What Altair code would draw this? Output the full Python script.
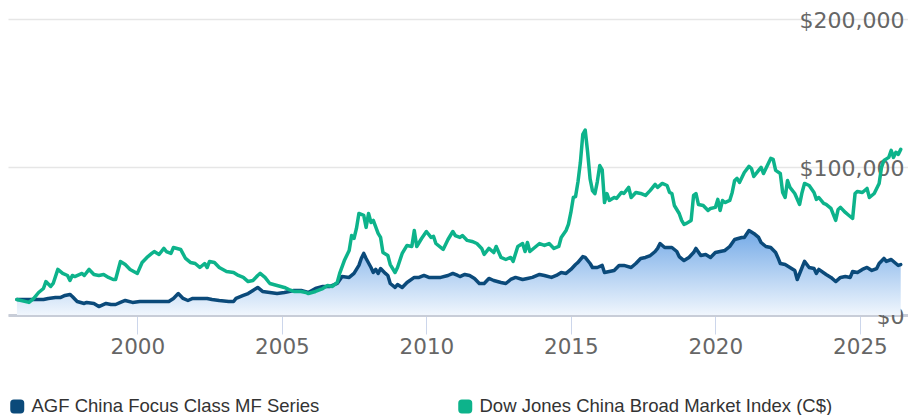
import altair as alt
import pandas as pd

AGF = "AGF China Focus Class MF Series"
DJ = "Dow Jones China Broad Market Index (C$)"
series_names = [AGF, DJ]
series_colors = ["#0b4a7a", "#0db38b"]
y_ticks = [0, 100000, 200000]
x_tick_years = [2000, 2005, 2010, 2015, 2020, 2025]

agf_dates = [
    "1995-11", "1996-02", "1996-06", "1996-10", "1996-12", "1997-03", "1997-05", "1997-07", "1997-09", "1997-10",
    "1997-12", "1998-03", "1998-04", "1998-07", "1998-09", "1998-12", "1999-02", "1999-04", "1999-06", "1999-08",
    "1999-11", "2000-02", "2000-06", "2000-10", "2001-02", "2001-04", "2001-06", "2001-08", "2001-10", "2001-12",
    "2002-03", "2002-06", "2002-08", "2002-11", "2003-03", "2003-05", "2003-06", "2003-09", "2003-11", "2004-01",
    "2004-03", "2004-05", "2004-08", "2004-11", "2005-02", "2005-06", "2005-09", "2005-12", "2006-03", "2006-06",
    "2006-09", "2006-12", "2007-02", "2007-05", "2007-07", "2007-09", "2007-10", "2007-11", "2007-12", "2008-02",
    "2008-03", "2008-04", "2008-05", "2008-06", "2008-08", "2008-09", "2008-10", "2008-12", "2009-01", "2009-03",
    "2009-05", "2009-08", "2009-10", "2009-12", "2010-02", "2010-04", "2010-07", "2010-10", "2010-12", "2011-02",
    "2011-03", "2011-05", "2011-07", "2011-09", "2011-11", "2012-01", "2012-03", "2012-05", "2012-08", "2012-10",
    "2012-12", "2013-02", "2013-05", "2013-07", "2013-09", "2013-12", "2014-02", "2014-05", "2014-07", "2014-09",
    "2014-11", "2015-01", "2015-03", "2015-04", "2015-06", "2015-07", "2015-09", "2015-10", "2015-12", "2016-02",
    "2016-03", "2016-05", "2016-07", "2016-09", "2016-11", "2017-02", "2017-04", "2017-06", "2017-08", "2017-10",
    "2017-12", "2018-01", "2018-02", "2018-04", "2018-07", "2018-09", "2018-10", "2018-12", "2019-02", "2019-04",
    "2019-05", "2019-07", "2019-09", "2019-11", "2020-01", "2020-03", "2020-05", "2020-07", "2020-09", "2020-12",
    "2021-01", "2021-03", "2021-05", "2021-07", "2021-08", "2021-10", "2021-12", "2022-02", "2022-03", "2022-04",
    "2022-06", "2022-08", "2022-10", "2022-11", "2023-01", "2023-02", "2023-04", "2023-06", "2023-07", "2023-08",
    "2023-11", "2024-01", "2024-03", "2024-05", "2024-07", "2024-09", "2024-10", "2024-12", "2025-02", "2025-04",
    "2025-06", "2025-08", "2025-09", "2025-11", "2025-12", "2026-02", "2026-04", "2026-05", "2026-06",
]
agf_values = [
    10500, 10500, 10500, 10500, 11200, 11800, 11800, 13200, 13900, 12500,
    9100, 7800, 8500, 7800, 5700, 7800, 7100, 7100, 8500, 9800,
    8500, 9100, 9100, 9100, 9100, 11200, 14500, 11200, 9800, 11200,
    11200, 11200, 10500, 9800, 9100, 9100, 11200, 13200, 14500, 16600,
    18600, 15900, 15200, 14500, 15200, 16600, 16600, 15200, 17900, 19300,
    19300, 21300, 26000, 25400, 28100, 33500, 38200, 41600, 38200, 32100,
    28700, 30800, 28100, 31400, 28100, 26700, 21300, 18600, 20600, 18600,
    22000, 25400, 25400, 26700, 25400, 25400, 25400, 26700, 28100, 26700,
    26000, 27400, 26700, 24700, 21300, 21300, 24700, 23300, 22000, 21300,
    24000, 25400, 24000, 24700, 25400, 27400, 26700, 25400, 26700, 28700,
    28100, 30800, 34100, 35500, 39500, 38900, 34800, 32100, 32100, 33500,
    28700, 29400, 30100, 33500, 33500, 32100, 34800, 38200, 38900, 40200,
    42900, 45000, 48300, 45600, 45600, 42900, 39500, 36800, 38900, 42200,
    45000, 40200, 40900, 38900, 42200, 42900, 43600, 46300, 51000, 52400,
    52400, 57100, 55100, 52400, 49000, 46300, 45600, 42200, 38900, 34800,
    34100, 32100, 30100, 24000, 32100, 36200, 32100, 31400, 28100, 30800,
    27400, 25400, 22600, 25400, 26000, 25400, 29400, 28700, 30800, 32100,
    30100, 31400, 34800, 38200, 36200, 37500, 34800, 33500, 34100,
]

dj_dates = [
    "1995-11", "1996-04", "1996-06", "1996-08", "1996-10", "1996-11", "1997-01", "1997-02", "1997-04", "1997-06",
    "1997-08", "1997-09", "1997-10", "1997-11", "1998-02", "1998-03", "1998-05", "1998-07", "1998-09", "1998-11",
    "1999-01", "1999-03", "1999-04", "1999-06", "1999-08", "1999-10", "2000-01", "2000-03", "2000-05", "2000-07",
    "2000-08", "2000-10", "2000-12", "2001-01", "2001-03", "2001-04", "2001-07", "2001-09", "2001-11", "2002-01",
    "2002-03", "2002-05", "2002-06", "2002-07", "2002-09", "2002-11", "2003-02", "2003-05", "2003-07", "2003-09",
    "2003-11", "2004-01", "2004-03", "2004-04", "2004-06", "2004-08", "2004-11", "2005-02", "2005-04", "2005-06",
    "2005-09", "2005-11", "2005-12", "2006-03", "2006-06", "2006-08", "2006-10", "2006-12", "2007-01", "2007-03",
    "2007-05", "2007-06", "2007-07", "2007-08", "2007-09", "2007-11", "2007-12", "2008-01", "2008-02", "2008-03",
    "2008-05", "2008-06", "2008-07", "2008-09", "2008-10", "2008-12", "2009-01", "2009-03", "2009-05", "2009-07",
    "2009-08", "2009-09", "2009-11", "2010-01", "2010-03", "2010-04", "2010-05", "2010-08", "2010-10", "2010-12",
    "2011-01", "2011-03", "2011-04", "2011-06", "2011-08", "2011-10", "2011-12", "2012-01", "2012-03", "2012-05",
    "2012-06", "2012-08", "2012-10", "2012-12", "2013-01", "2013-03", "2013-05", "2013-06", "2013-07", "2013-08",
    "2013-10", "2013-12", "2014-02", "2014-04", "2014-06", "2014-08", "2014-09", "2014-11", "2014-12", "2015-01",
    "2015-02", "2015-03", "2015-04", "2015-05", "2015-06", "2015-07", "2015-08", "2015-09", "2015-10", "2015-11",
    "2015-12", "2016-01", "2016-02", "2016-03", "2016-04", "2016-05", "2016-07", "2016-08", "2016-10", "2016-11",
    "2017-01", "2017-02", "2017-04", "2017-06", "2017-08", "2017-10", "2017-12", "2018-01", "2018-03", "2018-05",
    "2018-06", "2018-07", "2018-08", "2018-10", "2018-11", "2018-12", "2019-01", "2019-03", "2019-04", "2019-05",
    "2019-06", "2019-08", "2019-10", "2019-11", "2020-01", "2020-02", "2020-03", "2020-04", "2020-05", "2020-07",
    "2020-08", "2020-09", "2020-10", "2020-11", "2021-01", "2021-03", "2021-04", "2021-05", "2021-07", "2021-08",
    "2021-09", "2021-10", "2021-12", "2022-01", "2022-02", "2022-04", "2022-05", "2022-06", "2022-07", "2022-08",
    "2022-10", "2022-12", "2023-01", "2023-02", "2023-04", "2023-06", "2023-07", "2023-08", "2023-10", "2023-11",
    "2024-01", "2024-03", "2024-04", "2024-05", "2024-07", "2024-08", "2024-10", "2024-11", "2024-12", "2025-02",
    "2025-04", "2025-05", "2025-07", "2025-09", "2025-10", "2025-11", "2026-01", "2026-02", "2026-03", "2026-04",
    "2026-05", "2026-06",
]
dj_values = [
    10500, 8500, 11200, 15200, 17900, 22600, 19300, 21300, 30800, 28100,
    26700, 23300, 26700, 26000, 28100, 26700, 30800, 27400, 26700, 27400,
    25400, 24000, 24000, 36200, 34100, 30800, 28100, 35500, 38900, 41600,
    42900, 40900, 45000, 42900, 41600, 45600, 44300, 38200, 35500, 34800,
    32100, 34800, 32100, 36200, 35500, 32100, 29400, 28700, 26700, 25400,
    22600, 23300, 26700, 28100, 25400, 21300, 19900, 18600, 17200, 15900,
    15900, 15200, 14500, 15900, 17900, 19900, 19300, 22000, 28100, 36800,
    43600, 53700, 51700, 58500, 68600, 67300, 59200, 68600, 62500, 63900,
    55100, 52400, 42200, 40200, 34100, 28700, 32100, 41600, 47000, 46300,
    57100, 46300, 51700, 56400, 52400, 53100, 48300, 44300, 51000, 56400,
    53700, 52400, 53700, 50400, 49700, 48300, 45000, 40900, 45000, 42200,
    46300, 38900, 37500, 38900, 36200, 46300, 48300, 42900, 49000, 42900,
    45600, 48300, 47000, 48300, 45000, 46300, 52400, 57100, 61200, 69300,
    79400, 80000, 90000, 103000, 122000, 125000, 110000, 92000, 84000, 82000,
    90000, 101000, 98000, 76000, 82000, 77400, 79400, 78800, 82800, 82100,
    86200, 79400, 82800, 82100, 80800, 84200, 88200, 86200, 88900, 87500,
    82800, 82100, 74000, 68600, 63900, 61200, 61900, 63900, 80800, 82100,
    74700, 74000, 70600, 72000, 72700, 78100, 70600, 77400, 76000, 77400,
    82800, 90900, 92300, 89600, 96300, 100400, 99000, 93600, 97700, 99700,
    95600, 99000, 105800, 105100, 97700, 95600, 82800, 79400, 90900, 86200,
    82100, 74700, 82800, 88900, 87500, 82800, 78100, 79400, 75400, 74700,
    72000, 63900, 71300, 72700, 69300, 67900, 65200, 82100, 83500, 82800,
    85500, 79400, 82100, 88900, 99700, 104400, 106500, 111200, 106500, 109900,
    108500, 111900,
]

agf = pd.DataFrame({"date": pd.to_datetime(agf_dates), "value": agf_values, "series": AGF})
dj = pd.DataFrame({"date": pd.to_datetime(dj_dates), "value": dj_values, "series": DJ})
data = pd.concat([agf, dj], ignore_index=True)

x_scale = alt.Scale(domain=[alt.DateTime(year=1995, month=7, date=11),
                            alt.DateTime(year=2026, month=9, date=1)])
y_scale = alt.Scale(domain=[0, 200000], nice=False)

x_axis = alt.Axis(
    values=[alt.DateTime(year=y) for y in x_tick_years], format="%Y", title=None,
    grid=False, domainColor="#c8cdd8", domainWidth=3, tickColor="#ccd6eb",
    tickSize=19, tickWidth=1, labelFont="DejaVu Sans", labelFontSize=21.5,
    labelColor="#666666", labelPadding=2, labelFlush=False,
)
y_axis = alt.Axis(
    orient="right", values=y_ticks, format="$,.0f", title=None, domain=False,
    ticks=False, tickSize=0, grid=True, gridColor="#e6e6e6", gridWidth=1.5,
    labelAlign="right", labelBaseline="middle", labelPadding=-4, labelOffset=1,
    labelFont="DejaVu Sans", labelFontSize=22, labelColor="#666666", labelFlush=False,
)

X = alt.X("date:T", scale=x_scale, axis=x_axis)
Y = alt.Y("value:Q", scale=y_scale, axis=y_axis)

gradient = alt.Gradient(
    gradient="linear",
    stops=[alt.GradientStop(color="#74aae7", offset=0),
           alt.GradientStop(color="#f0f6fd", offset=1)],
    x1=0, x2=0, y1=0, y2=1,
)

area = alt.Chart(agf).mark_area(color=gradient, interpolate="linear").encode(x=X, y=Y)

# small square with smooth corners; a thick stroke turns it into a filled rounded square
legend_shape = ("M -0.95,-1 L 0.95,-1 Q 1,-1 1,-0.95 L 1,0.95 Q 1,1 0.95,1 "
                "L -0.95,1 Q -1,1 -1,0.95 L -1,-0.95 Q -1,-1 -0.95,-1 Z")

lines = alt.Chart(data).mark_line(strokeWidth=3.5, strokeJoin="round", strokeCap="round").encode(
    x=X, y=Y,
    color=alt.Color(
        "series:N",
        scale=alt.Scale(domain=series_names, range=series_colors),
        legend=alt.Legend(
            orient="bottom", direction="horizontal", title=None,
            symbolType=legend_shape, symbolSize=49, symbolStrokeWidth=7,
            labelFont="Liberation Sans", labelFontSize=18.5, labelColor="#333333",
            labelOffset=5, columnPadding=127, labelLimit=500, offset=39,
        ),
    ),
)

chart = alt.layer(area, lines).properties(
    width=900, height=296,
    autosize=alt.AutoSizeParams(type="none"),
    padding={"left": 0, "top": 11, "right": 0, "bottom": 100},
    background="white",
).configure_view(stroke=None)

chart.save("out.html", embed_options={"renderer": "svg", "actions": False})
